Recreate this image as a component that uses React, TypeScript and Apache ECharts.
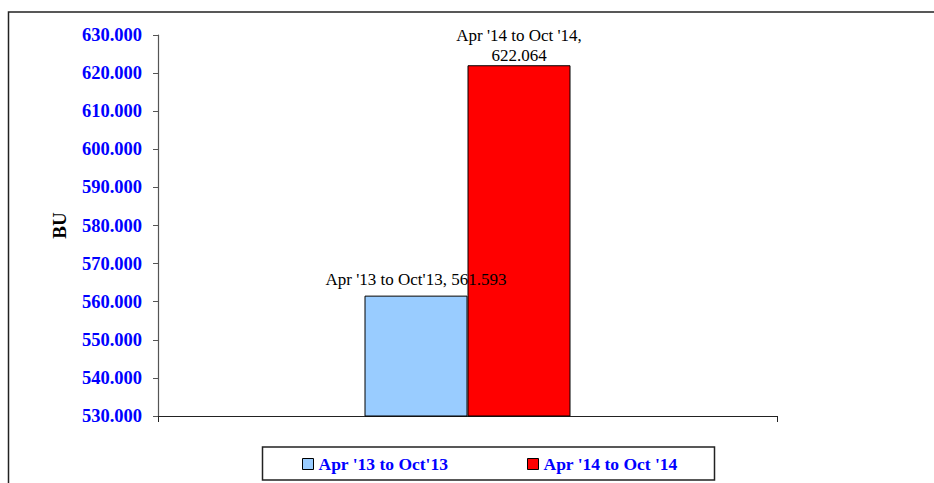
import React, { useEffect, useRef } from "react";
import * as echarts from "echarts";

const categories = ["BU"];
const seriesNames = ["Apr '13 to Oct'13", "Apr '14 to Oct '14"];
const seriesValues = [561.593, 622.064];
const seriesLabels = ["Apr '13 to Oct'13, 561.593", "Apr '14 to Oct '14,\n622.064"];
const seriesColors = ["#99CCFF", "#FF0000"];
const yMin = 530;
const yMax = 630;
const yInterval = 10;

const FONT = "'Times New Roman', 'Liberation Serif', serif";

export default function App() {
  const ref = useRef<HTMLDivElement>(null);
  useEffect(() => {
    if (!ref.current) return;
    const chart = echarts.init(ref.current, undefined, { renderer: "svg" });
    const labelDistances = [6, 0];
    const legendLefts = [302, 527];
    chart.setOption({
      animation: false,
      backgroundColor: "#ffffff",
      grid: { left: 158, right: 157, top: 35, bottom: 67, containLabel: false },
      xAxis: {
        type: "category",
        data: categories,
        boundaryGap: true,
        axisLine: { show: true, lineStyle: { color: "#222", width: 1.2 } },
        axisTick: { show: true, length: 6, lineStyle: { color: "#222" } },
        axisLabel: { show: false },
        splitLine: { show: false },
      },
      yAxis: {
        type: "value",
        min: yMin,
        max: yMax,
        interval: yInterval,
        name: "BU",
        nameLocation: "middle",
        nameRotate: 90,
        nameGap: 89,
        nameTextStyle: { fontFamily: FONT, fontWeight: "bold", fontSize: 19, color: "#000" },
        axisLine: { show: true, lineStyle: { color: "#555", width: 1.2 } },
        axisTick: { show: true, inside: false, length: 5, lineStyle: { color: "#555" } },
        axisLabel: {
          margin: 16,
          fontFamily: FONT,
          fontWeight: "bold",
          fontSize: 18.5,
          color: "#0000FF",
          formatter: (v: number) => v.toFixed(3),
        },
        splitLine: { show: false },
      },
      legend: seriesNames.map((n, i) => ({
        data: [n],
        left: legendLefts[i],
        top: 455,
        padding: 0,
        itemWidth: 11,
        itemHeight: 11,
        itemGap: 5,
        icon: "rect",
        itemStyle: { borderColor: "#000", borderWidth: 1 },
        textStyle: {
          fontFamily: FONT,
          fontWeight: "bold",
          fontSize: 17.5,
          lineHeight: 17,
          color: "#0000FF",
        },
      })),
      graphic: [
        {
          type: "rect",
          shape: { x: 8.5, y: 12, width: 1000, height: 1000 },
          style: { fill: "none", stroke: "#222", lineWidth: 1.5 },
          silent: true,
        },
        {
          type: "rect",
          shape: { x: 262.5, y: 447, width: 452, height: 33 },
          style: { fill: "none", stroke: "#222", lineWidth: 1.5 },
          silent: true,
        },
      ],
      series: seriesNames.map((n, i) => ({
        name: n,
        type: "bar",
        data: [seriesValues[i]],
        barWidth: 103,
        barGap: "0%",
        itemStyle: { color: seriesColors[i], borderColor: "#000", borderWidth: 1 },
        label: {
          show: true,
          position: "top",
          distance: labelDistances[i],
          formatter: () => seriesLabels[i],
          fontFamily: FONT,
          fontSize: 17,
          lineHeight: 20,
          color: "#000",
          align: "center",
        },
        z: 2,
      })),
    });
    return () => chart.dispose();
  }, []);
  return (
    <div
      ref={ref}
      style={{ position: "fixed", left: 0, top: 0, width: 934, height: 483 }}
    />
  );
}
